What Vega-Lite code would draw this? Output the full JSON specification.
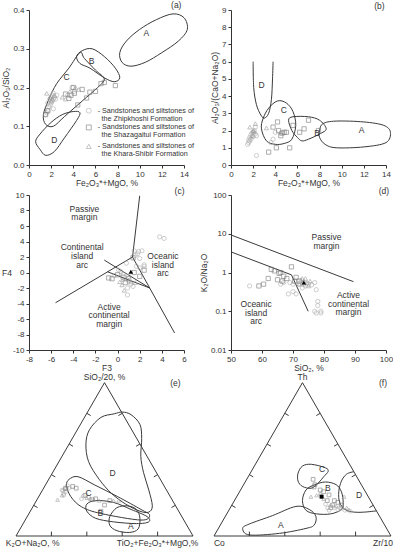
{
"$schema": "https://vega.github.io/schema/vega-lite/v6.json",
"padding": {"left": 1, "top": 0, "right": 0, "bottom": 0},
"background": "white",
"config": {
  "view": {"stroke": null},
  "axis": {"labelFont": "Liberation Sans", "titleFont": "Liberation Sans", "labelFontSize": 8, "titleFontSize": 8.5, "titleFontWeight": "normal", "grid": false, "domainColor": "#333", "tickColor": "#333", "labelColor": "#333", "titleColor": "#333", "tickSize": 3, "labelPadding": 2, "labelOverlap": false, "labelFlush": false},
  "axisX": {"titlePadding": 0},
  "axisY": {"titlePadding": 2},
  "text": {"font": "Liberation Sans", "fontSize": 8.5, "color": "#333"},
  "line": {"color": "#3a3a3a", "strokeWidth": 1},
  "rule": {"color": "#3a3a3a", "strokeWidth": 1}
},
"datasets": {
  "a_reg": [
    {"r":"A","i":1,"x":8.2,"y":0.29},{"r":"A","i":2,"x":8.8,"y":0.32},{"r":"A","i":3,"x":10,"y":0.35},{"r":"A","i":4,"x":11.5,"y":0.375},{"r":"A","i":5,"x":13,"y":0.39},{"r":"A","i":6,"x":14,"y":0.38},{"r":"A","i":7,"x":14.3,"y":0.35},{"r":"A","i":8,"x":13.5,"y":0.32},{"r":"A","i":9,"x":12,"y":0.29},{"r":"A","i":10,"x":10.5,"y":0.265},{"r":"A","i":11,"x":9.2,"y":0.255},{"r":"A","i":12,"x":8.4,"y":0.265},
    {"r":"B","i":1,"x":4.3,"y":0.28},{"r":"B","i":2,"x":4.8,"y":0.295},{"r":"B","i":3,"x":5.7,"y":0.3},{"r":"B","i":4,"x":6.8,"y":0.28},{"r":"B","i":5,"x":7.8,"y":0.25},{"r":"B","i":6,"x":8.2,"y":0.225},{"r":"B","i":7,"x":7.7,"y":0.215},{"r":"B","i":8,"x":6.8,"y":0.225},{"r":"B","i":9,"x":5.5,"y":0.25},{"r":"B","i":10,"x":4.6,"y":0.262},
    {"r":"C","i":1,"x":4.6,"y":0.29},{"r":"C","i":2,"x":3.6,"y":0.25},{"r":"C","i":3,"x":2.5,"y":0.21},{"r":"C","i":4,"x":1.8,"y":0.17},{"r":"C","i":5,"x":1.3,"y":0.13},{"r":"C","i":6,"x":1.5,"y":0.105},{"r":"C","i":7,"x":2.2,"y":0.1},{"r":"C","i":8,"x":3.2,"y":0.125},{"r":"C","i":9,"x":4.8,"y":0.165},{"r":"C","i":10,"x":6.2,"y":0.2},{"r":"C","i":11,"x":6.8,"y":0.222},{"r":"C","i":12,"x":6.0,"y":0.245},{"r":"C","i":13,"x":5.0,"y":0.275},
    {"r":"D","i":1,"x":1.0,"y":0.04},{"r":"D","i":2,"x":0.6,"y":0.06},{"r":"D","i":3,"x":1.0,"y":0.08},{"r":"D","i":4,"x":2.0,"y":0.11},{"r":"D","i":5,"x":3.0,"y":0.13},{"r":"D","i":6,"x":4.0,"y":0.138},{"r":"D","i":7,"x":4.6,"y":0.135},{"r":"D","i":8,"x":4.3,"y":0.115},{"r":"D","i":9,"x":3.2,"y":0.07},{"r":"D","i":10,"x":2.3,"y":0.035},{"r":"D","i":11,"x":1.5,"y":0.025}
  ],
  "a_pts": [
    {"fm":"Z","x":1.5,"y":0.13},{"fm":"Z","x":1.6,"y":0.135},{"fm":"Z","x":1.7,"y":0.14},{"fm":"Z","x":1.8,"y":0.15},{"fm":"Z","x":1.9,"y":0.155},{"fm":"Z","x":2.0,"y":0.16},{"fm":"Z","x":2.1,"y":0.165},{"fm":"Z","x":2.2,"y":0.17},{"fm":"Z","x":2.0,"y":0.175},{"fm":"Z","x":2.3,"y":0.175},{"fm":"Z","x":2.1,"y":0.18},{"fm":"Z","x":2.2,"y":0.185},{"fm":"Z","x":1.9,"y":0.17},{"fm":"Z","x":2.4,"y":0.17},{"fm":"Z","x":2.2,"y":0.145},{"fm":"Z","x":1.7,"y":0.16},{"fm":"Z","x":2.5,"y":0.18},{"fm":"Z","x":3.5,"y":0.18},{"fm":"Z","x":3.9,"y":0.2},{"fm":"Z","x":4.1,"y":0.19},
    {"fm":"S","x":1.5,"y":0.13},{"fm":"S","x":1.7,"y":0.14},{"fm":"S","x":3.3,"y":0.183},{"fm":"S","x":3.6,"y":0.172},{"fm":"S","x":4.0,"y":0.2},{"fm":"S","x":4.1,"y":0.185},{"fm":"S","x":4.4,"y":0.155},{"fm":"S","x":4.8,"y":0.195},{"fm":"S","x":5.2,"y":0.173},{"fm":"S","x":5.5,"y":0.188},{"fm":"S","x":6.0,"y":0.19},{"fm":"S","x":6.5,"y":0.21},{"fm":"S","x":6.8,"y":0.213},{"fm":"S","x":7.8,"y":0.205},{"fm":"S","x":3.8,"y":0.18},
    {"fm":"K","x":1.6,"y":0.185},{"fm":"K","x":1.9,"y":0.175},{"fm":"K","x":2.1,"y":0.17},{"fm":"K","x":2.3,"y":0.18},{"fm":"K","x":3.0,"y":0.175},{"fm":"K","x":3.3,"y":0.17},{"fm":"K","x":3.7,"y":0.19},{"fm":"K","x":4.2,"y":0.2},{"fm":"K","x":4.5,"y":0.195},{"fm":"K","x":2.0,"y":0.165}
  ],
  "a_txt": [
    {"x":10.6,"y":0.34,"t":"A"},{"x":5.66,"y":0.269,"t":"B"},{"x":3.4,"y":0.227,"t":"C"},{"x":2.29,"y":0.065,"t":"D"},{"x":13.3,"y":0.413,"t":"(a)"}
  ],
  "a_leg": [
    {"fm":"Z","x":5.4,"y":0.14},{"fm":"S","x":5.4,"y":0.097},{"fm":"K","x":5.4,"y":0.048}
  ],
  "a_legtxt": [
    {"x":6.2,"y":0.14,"t":"- Sandstones and siltstones of"},{"x":6.55,"y":0.12,"t":"the Zhipkhoshi Formation"},
    {"x":6.2,"y":0.097,"t":"- Sandstones and siltstones of"},{"x":6.55,"y":0.077,"t":"the Shazagaitui Formation"},
    {"x":6.2,"y":0.048,"t":"- Sandstones and siltstones of"},{"x":6.55,"y":0.028,"t":"the Khara-Shibir Formation"}
  ],
  "b_reg": [
    {"r":"A","i":1,"x":8.0,"y":2.0},{"r":"A","i":2,"x":8.3,"y":2.4},{"r":"A","i":3,"x":9.5,"y":2.55},{"r":"A","i":4,"x":12,"y":2.5},{"r":"A","i":5,"x":13.8,"y":2.3},{"r":"A","i":6,"x":14.4,"y":1.9},{"r":"A","i":7,"x":14.0,"y":1.3},{"r":"A","i":8,"x":12,"y":1.05},{"r":"A","i":9,"x":9.5,"y":1.0},{"r":"A","i":10,"x":8.5,"y":1.2},{"r":"A","i":11,"x":8.0,"y":1.6},
    {"r":"B","i":1,"x":5.2,"y":2.6},{"r":"B","i":2,"x":5.6,"y":2.8},{"r":"B","i":3,"x":7.0,"y":2.8},{"r":"B","i":4,"x":8.0,"y":2.6},{"r":"B","i":5,"x":8.6,"y":2.1},{"r":"B","i":6,"x":8.0,"y":1.8},{"r":"B","i":7,"x":7.0,"y":1.5},{"r":"B","i":8,"x":6.4,"y":1.4},{"r":"B","i":9,"x":6.0,"y":1.6},{"r":"B","i":10,"x":5.5,"y":2.0},
    {"r":"C","i":1,"x":2.75,"y":2.1},{"r":"C","i":2,"x":2.9,"y":2.7},{"r":"C","i":3,"x":3.4,"y":3.3},{"r":"C","i":4,"x":4.2,"y":3.72},{"r":"C","i":5,"x":5.0,"y":3.6},{"r":"C","i":6,"x":5.6,"y":3.1},{"r":"C","i":7,"x":5.85,"y":2.3},{"r":"C","i":8,"x":5.5,"y":1.5},{"r":"C","i":9,"x":4.8,"y":1.25},{"r":"C","i":10,"x":4.0,"y":1.2},{"r":"C","i":11,"x":3.2,"y":1.4}
  ],
  "b_open": [
    {"r":"D","i":1,"x":2.0,"y":6.0},{"r":"D","i":2,"x":2.05,"y":4.5},{"r":"D","i":3,"x":2.3,"y":3.5},{"r":"D","i":4,"x":2.7,"y":2.9},{"r":"D","i":5,"x":3.0,"y":2.72},{"r":"D","i":6,"x":3.4,"y":3.0},{"r":"D","i":7,"x":3.65,"y":3.8},{"r":"D","i":8,"x":3.75,"y":5.0},{"r":"D","i":9,"x":3.8,"y":6.0}
  ],
  "b_pts": [
    {"fm":"Z","x":1.6,"y":1.3},{"fm":"Z","x":1.6,"y":1.45},{"fm":"Z","x":1.7,"y":1.6},{"fm":"Z","x":1.8,"y":1.75},{"fm":"Z","x":1.9,"y":1.85},{"fm":"Z","x":2.0,"y":1.9},{"fm":"Z","x":2.1,"y":2.0},{"fm":"Z","x":2.2,"y":1.8},{"fm":"Z","x":2.3,"y":1.7},{"fm":"Z","x":1.8,"y":1.5},{"fm":"Z","x":2.0,"y":1.65},{"fm":"Z","x":2.2,"y":2.2},{"fm":"Z","x":1.7,"y":1.4},{"fm":"Z","x":2.3,"y":0.55},{"fm":"Z","x":3.6,"y":1.3},{"fm":"Z","x":3.8,"y":1.5},{"fm":"Z","x":4.0,"y":1.9},{"fm":"Z","x":1.5,"y":1.2},
    {"fm":"S","x":3.4,"y":0.75},{"fm":"S","x":4.1,"y":1.0},{"fm":"S","x":5.3,"y":1.0},{"fm":"S","x":4.2,"y":2.5},{"fm":"S","x":4.5,"y":1.7},{"fm":"S","x":4.8,"y":1.9},{"fm":"S","x":5.0,"y":1.9},{"fm":"S","x":3.8,"y":2.2},{"fm":"S","x":4.3,"y":2.0},{"fm":"S","x":5.6,"y":2.3},{"fm":"S","x":6.2,"y":1.9},{"fm":"S","x":6.6,"y":2.1},{"fm":"S","x":7.0,"y":2.6},{"fm":"S","x":7.9,"y":2.0},{"fm":"S","x":4.6,"y":1.85},
    {"fm":"K","x":1.7,"y":2.2},{"fm":"K","x":2.2,"y":2.4},{"fm":"K","x":3.2,"y":2.15},{"fm":"K","x":2.0,"y":2.0},{"fm":"K","x":4.5,"y":1.9},{"fm":"K","x":2.1,"y":1.95},{"fm":"K","x":1.9,"y":1.7}
  ],
  "b_txt": [
    {"x":2.75,"y":4.66,"t":"D"},{"x":4.78,"y":3.2,"t":"C"},{"x":7.77,"y":1.85,"t":"B"},{"x":11.8,"y":2.05,"t":"A"},{"x":13.4,"y":9.25,"t":"(b)"}
  ],
  "c_lines": [
    {"x":-5.6,"y":-3.9,"x2":1.35,"y2":2.0},{"x":1.35,"y":2.0,"x2":2.0,"y2":9.9},{"x":1.35,"y":2.0,"x2":5.15,"y2":-7.8},{"x":-1.2,"y":1.6,"x2":2.9,"y2":-2.0},{"x":-0.9,"y":0.09,"x2":2.9,"y2":-2.0}
  ],
  "c_pts": [
    {"fm":"Z","x":3.8,"y":4.6},{"fm":"Z","x":4.2,"y":4.4},{"fm":"Z","x":1.5,"y":2.8},{"fm":"Z","x":1.9,"y":2.7},{"fm":"Z","x":2.2,"y":2.8},{"fm":"Z","x":1.6,"y":2.2},{"fm":"Z","x":2.0,"y":1.8},{"fm":"Z","x":0.8,"y":1.2},{"fm":"Z","x":1.7,"y":0.8},{"fm":"Z","x":2.4,"y":0.8},{"fm":"Z","x":2.4,"y":1.0},{"fm":"Z","x":2.0,"y":0.6},{"fm":"Z","x":0.1,"y":0.3},{"fm":"Z","x":0.5,"y":-0.2},{"fm":"Z","x":1.0,"y":-0.5},{"fm":"Z","x":1.2,"y":-1.5},{"fm":"Z","x":1.4,"y":-1.8},{"fm":"Z","x":0.9,"y":-2.0},{"fm":"Z","x":0.9,"y":-2.9},{"fm":"Z","x":-0.3,"y":-0.4},{"fm":"Z","x":0.3,"y":0.1},{"fm":"Z","x":1.8,"y":2.4},
    {"fm":"S","x":-0.8,"y":-0.7},{"fm":"S","x":-0.5,"y":-0.8},{"fm":"S","x":0.0,"y":-0.3},{"fm":"S","x":0.5,"y":-0.6},{"fm":"S","x":1.0,"y":-0.8},{"fm":"S","x":2.0,"y":-0.5},{"fm":"S","x":2.4,"y":0.3},{"fm":"S","x":1.5,"y":0.0},{"fm":"S","x":0.7,"y":-1.3},{"fm":"S","x":1.4,"y":1.9},
    {"fm":"K","x":0.2,"y":-1.2},{"fm":"K","x":0.4,"y":-1.6},{"fm":"K","x":0.6,"y":-2.3},{"fm":"K","x":1.0,"y":-1.0},{"fm":"K","x":1.2,"y":-1.2},{"fm":"K","x":0.5,"y":-0.9},{"fm":"K","x":1.6,"y":-1.3}
  ],
  "c_mean": [{"x":1.2,"y":0.1}],
  "c_txt": [
    {"x":-3.0,"y":8.2,"t":"Passive"},{"x":-3.0,"y":7.1,"t":"margin"},
    {"x":-3.2,"y":3.25,"t":"Continental"},{"x":-3.2,"y":2.13,"t":"island"},{"x":-3.2,"y":1.0,"t":"arc"},
    {"x":4.1,"y":2.13,"t":"Oceanic"},{"x":4.1,"y":1.0,"t":"island"},{"x":4.1,"y":-0.1,"t":"arc"},
    {"x":-0.76,"y":-4.4,"t":"Active"},{"x":-0.76,"y":-5.5,"t":"continental"},{"x":-0.76,"y":-6.6,"t":"margin"},
    {"x":5.6,"y":10.5,"t":"(c)"}
  ],
  "d_lines": [
    {"x":50,"y":9.3,"x2":89.5,"y2":0.58},{"x":50,"y":3.4,"x2":69.5,"y2":0.87},{"x":69.5,"y":0.87,"x2":74.9,"y2":0.1}
  ],
  "d_pts": [
    {"fm":"Z","x":56,"y":0.45},{"fm":"Z","x":66,"y":0.5},{"fm":"Z","x":67,"y":0.55},{"fm":"Z","x":68.5,"y":0.28},{"fm":"Z","x":70,"y":0.32},{"fm":"Z","x":71,"y":0.28},{"fm":"Z","x":70,"y":0.5},{"fm":"Z","x":72,"y":0.5},{"fm":"Z","x":74,"y":0.45},{"fm":"Z","x":75,"y":0.5},{"fm":"Z","x":77,"y":0.55},{"fm":"Z","x":77.5,"y":0.36},{"fm":"Z","x":78,"y":0.18},{"fm":"Z","x":78,"y":0.14},{"fm":"Z","x":77,"y":0.1},{"fm":"Z","x":77.5,"y":0.09},{"fm":"Z","x":79,"y":0.1},{"fm":"Z","x":79,"y":0.09},{"fm":"Z","x":69,"y":0.55},{"fm":"Z","x":73,"y":0.4},{"fm":"Z","x":76,"y":0.48},
    {"fm":"S","x":59,"y":0.45},{"fm":"S","x":60.5,"y":0.5},{"fm":"S","x":62,"y":0.7},{"fm":"S","x":63,"y":1.2},{"fm":"S","x":65.5,"y":0.95},{"fm":"S","x":66,"y":1.0},{"fm":"S","x":67,"y":0.8},{"fm":"S","x":65,"y":0.65},{"fm":"S","x":69.5,"y":1.4},{"fm":"S","x":68,"y":0.7},{"fm":"S","x":70.5,"y":0.6},{"fm":"S","x":71,"y":0.75},{"fm":"S","x":72,"y":0.6},{"fm":"S","x":66.5,"y":0.6},{"fm":"S","x":64,"y":1.1},
    {"fm":"K","x":72.5,"y":0.65},{"fm":"K","x":73,"y":0.55},{"fm":"K","x":73.5,"y":0.6},{"fm":"K","x":74,"y":0.7},{"fm":"K","x":74.5,"y":0.55},{"fm":"K","x":75.5,"y":0.6},{"fm":"K","x":72,"y":0.5},{"fm":"K","x":73.5,"y":0.5},{"fm":"K","x":75,"y":0.45},{"fm":"K","x":73,"y":0.7}
  ],
  "d_mean": [{"x":73.5,"y":0.55}],
  "d_txt": [
    {"x":80.8,"y":8.1,"t":"Passive"},{"x":80.8,"y":4.9,"t":"margin"},
    {"x":87.9,"y":0.263,"t":"Active"},{"x":87.9,"y":0.158,"t":"continental"},{"x":87.9,"y":0.095,"t":"margin"},
    {"x":58.1,"y":0.151,"t":"Oceanic"},{"x":58.1,"y":0.091,"t":"island"},{"x":58.1,"y":0.055,"t":"arc"},
    {"x":99.3,"y":125,"t":"(d)"}
  ],
  "tri": [
    {"i":1,"x":0,"y":0},{"i":2,"x":1,"y":0},{"i":3,"x":0.5,"y":0.866},{"i":4,"x":0,"y":0}
  ],
  "tri_ticks": [
    {"x":0.2,"y":0,"x2":0.2,"y2":0.025},{"x":0.4,"y":0,"x2":0.4,"y2":0.025},{"x":0.6,"y":0,"x2":0.6,"y2":0.025},{"x":0.8,"y":0,"x2":0.8,"y2":0.025},
    {"x":0.1,"y":0.1732,"x2":0.1217,"y2":0.1607},{"x":0.2,"y":0.3464,"x2":0.2217,"y2":0.3339},{"x":0.3,"y":0.5196,"x2":0.3217,"y2":0.5071},{"x":0.4,"y":0.6928,"x2":0.4217,"y2":0.6803},
    {"x":0.9,"y":0.1732,"x2":0.8783,"y2":0.1607},{"x":0.8,"y":0.3464,"x2":0.7783,"y2":0.3339},{"x":0.7,"y":0.5196,"x2":0.6783,"y2":0.5071},{"x":0.6,"y":0.6928,"x2":0.5783,"y2":0.6803}
  ],
  "e_reg": [
    {"r":"D","i":1,"x":0.555,"y":0.69},{"r":"D","i":2,"x":0.48,"y":0.67},{"r":"D","i":3,"x":0.415,"y":0.6},{"r":"D","i":4,"x":0.395,"y":0.52},{"r":"D","i":5,"x":0.41,"y":0.42},{"r":"D","i":6,"x":0.47,"y":0.32},{"r":"D","i":7,"x":0.54,"y":0.24},{"r":"D","i":8,"x":0.62,"y":0.18},{"r":"D","i":9,"x":0.7,"y":0.14},{"r":"D","i":10,"x":0.75,"y":0.135},{"r":"D","i":11,"x":0.77,"y":0.17},{"r":"D","i":12,"x":0.75,"y":0.26},{"r":"D","i":13,"x":0.72,"y":0.36},{"r":"D","i":14,"x":0.705,"y":0.45},{"r":"D","i":15,"x":0.71,"y":0.55},{"r":"D","i":16,"x":0.7,"y":0.63},{"r":"D","i":17,"x":0.65,"y":0.685},{"r":"D","i":18,"x":0.6,"y":0.7},
    {"r":"C","i":1,"x":0.3,"y":0.32},{"r":"C","i":2,"x":0.35,"y":0.335},{"r":"C","i":3,"x":0.445,"y":0.288},{"r":"C","i":4,"x":0.575,"y":0.222},{"r":"C","i":5,"x":0.706,"y":0.15},{"r":"C","i":6,"x":0.755,"y":0.118},{"r":"C","i":7,"x":0.706,"y":0.09},{"r":"C","i":8,"x":0.48,"y":0.127},{"r":"C","i":9,"x":0.37,"y":0.165},{"r":"C","i":10,"x":0.31,"y":0.222},{"r":"C","i":11,"x":0.285,"y":0.285},
    {"r":"B","i":1,"x":0.4,"y":0.18},{"r":"B","i":2,"x":0.45,"y":0.2},{"r":"B","i":3,"x":0.55,"y":0.19},{"r":"B","i":4,"x":0.65,"y":0.15},{"r":"B","i":5,"x":0.74,"y":0.11},{"r":"B","i":6,"x":0.75,"y":0.08},{"r":"B","i":7,"x":0.68,"y":0.07},{"r":"B","i":8,"x":0.55,"y":0.08},{"r":"B","i":9,"x":0.45,"y":0.1},{"r":"B","i":10,"x":0.4,"y":0.14},
    {"r":"A","i":1,"x":0.53,"y":0.11},{"r":"A","i":2,"x":0.57,"y":0.16},{"r":"A","i":3,"x":0.63,"y":0.17},{"r":"A","i":4,"x":0.68,"y":0.15},{"r":"A","i":5,"x":0.7,"y":0.1},{"r":"A","i":6,"x":0.69,"y":0.04},{"r":"A","i":7,"x":0.64,"y":0.02},{"r":"A","i":8,"x":0.57,"y":0.03},{"r":"A","i":9,"x":0.53,"y":0.06}
  ],
  "e_pts": [
    {"fm":"Z","x":0.265,"y":0.255},{"fm":"Z","x":0.275,"y":0.265},{"fm":"Z","x":0.285,"y":0.27},{"fm":"Z","x":0.27,"y":0.24},{"fm":"Z","x":0.28,"y":0.25},{"fm":"Z","x":0.26,"y":0.26},{"fm":"Z","x":0.3,"y":0.27},{"fm":"Z","x":0.29,"y":0.285},{"fm":"Z","x":0.38,"y":0.225},{"fm":"Z","x":0.41,"y":0.22},{"fm":"Z","x":0.37,"y":0.21},{"fm":"Z","x":0.27,"y":0.23},
    {"fm":"S","x":0.32,"y":0.28},{"fm":"S","x":0.34,"y":0.27},{"fm":"S","x":0.43,"y":0.205},{"fm":"S","x":0.45,"y":0.21},{"fm":"S","x":0.5,"y":0.175},{"fm":"S","x":0.48,"y":0.14},{"fm":"S","x":0.53,"y":0.2},{"fm":"S","x":0.39,"y":0.23},{"fm":"S","x":0.28,"y":0.27},
    {"fm":"K","x":0.235,"y":0.205},{"fm":"K","x":0.26,"y":0.23},{"fm":"K","x":0.4,"y":0.215},{"fm":"K","x":0.42,"y":0.21},{"fm":"K","x":0.44,"y":0.205},{"fm":"K","x":0.47,"y":0.2},{"fm":"K","x":0.55,"y":0.2},{"fm":"K","x":0.58,"y":0.2}
  ],
  "e_txt": [
    {"x":0.546,"y":0.353,"t":"D"},{"x":0.41,"y":0.244,"t":"C"},{"x":0.477,"y":0.132,"t":"B"},{"x":0.648,"y":0.058,"t":"A"},
    {"x":0.5,"y":0.9,"t":"SiO₂/20, %"},{"x":0.094,"y":-0.04,"t":"K₂O+Na₂O, %"},{"x":0.8,"y":-0.04,"t":"TiO₂+Fe₂O₃*+MgO,%"},{"x":0.9,"y":0.865,"t":"(e)"}
  ],
  "f_reg": [
    {"r":"A","i":1,"x":0.162,"y":0.043},{"r":"A","i":2,"x":0.2,"y":0.068},{"r":"A","i":3,"x":0.33,"y":0.115},{"r":"A","i":4,"x":0.463,"y":0.167},{"r":"A","i":5,"x":0.538,"y":0.15},{"r":"A","i":6,"x":0.576,"y":0.11},{"r":"A","i":7,"x":0.566,"y":0.062},{"r":"A","i":8,"x":0.52,"y":0.043},{"r":"A","i":9,"x":0.37,"y":0.015},{"r":"A","i":10,"x":0.2,"y":0.006},
    {"r":"B","i":1,"x":0.5,"y":0.2},{"r":"B","i":2,"x":0.52,"y":0.26},{"r":"B","i":3,"x":0.57,"y":0.29},{"r":"B","i":4,"x":0.63,"y":0.305},{"r":"B","i":5,"x":0.69,"y":0.29},{"r":"B","i":6,"x":0.72,"y":0.25},{"r":"B","i":7,"x":0.73,"y":0.19},{"r":"B","i":8,"x":0.72,"y":0.15},{"r":"B","i":9,"x":0.66,"y":0.125},{"r":"B","i":10,"x":0.58,"y":0.125},{"r":"B","i":11,"x":0.52,"y":0.145},
    {"r":"C","i":1,"x":0.5,"y":0.395},{"r":"C","i":2,"x":0.55,"y":0.405},{"r":"C","i":3,"x":0.63,"y":0.385},{"r":"C","i":4,"x":0.645,"y":0.365},{"r":"C","i":5,"x":0.62,"y":0.335},{"r":"C","i":6,"x":0.59,"y":0.3},{"r":"C","i":7,"x":0.55,"y":0.27},{"r":"C","i":8,"x":0.5,"y":0.28},{"r":"C","i":9,"x":0.475,"y":0.31},{"r":"C","i":10,"x":0.475,"y":0.355}
  ],
  "f_open": [
    {"r":"D","i":1,"x":0.79,"y":0.363},{"r":"D","i":2,"x":0.75,"y":0.35},{"r":"D","i":3,"x":0.72,"y":0.31},{"r":"D","i":4,"x":0.705,"y":0.25},{"r":"D","i":5,"x":0.71,"y":0.19},{"r":"D","i":6,"x":0.74,"y":0.15},{"r":"D","i":7,"x":0.79,"y":0.135},{"r":"D","i":8,"x":0.85,"y":0.135},{"r":"D","i":9,"x":0.918,"y":0.142}
  ],
  "f_pts": [
    {"fm":"S","x":0.56,"y":0.32},{"fm":"S","x":0.57,"y":0.29},{"fm":"S","x":0.565,"y":0.277},{"fm":"S","x":0.6,"y":0.26},{"fm":"S","x":0.62,"y":0.25},{"fm":"S","x":0.65,"y":0.232},{"fm":"S","x":0.68,"y":0.2},{"fm":"S","x":0.67,"y":0.175},{"fm":"S","x":0.72,"y":0.175},{"fm":"S","x":0.64,"y":0.2},{"fm":"S","x":0.7,"y":0.19},{"fm":"S","x":0.66,"y":0.16},
    {"fm":"K","x":0.548,"y":0.222},{"fm":"K","x":0.58,"y":0.23},{"fm":"K","x":0.735,"y":0.222},{"fm":"K","x":0.763,"y":0.147},{"fm":"K","x":0.75,"y":0.16},{"fm":"K","x":0.62,"y":0.21},{"fm":"K","x":0.6,"y":0.24},{"fm":"K","x":0.69,"y":0.17},
    {"fm":"Z","x":0.642,"y":0.158},{"fm":"Z","x":0.7,"y":0.147},{"fm":"Z","x":0.72,"y":0.155},{"fm":"Z","x":0.66,"y":0.17},{"fm":"Z","x":0.68,"y":0.16},{"fm":"Z","x":0.74,"y":0.145},{"fm":"Z","x":0.77,"y":0.14},{"fm":"Z","x":0.63,"y":0.18},{"fm":"Z","x":0.71,"y":0.16},{"fm":"Z","x":0.65,"y":0.145}
  ],
  "f_mean": [{"x":0.608,"y":0.222}],
  "f_txt": [
    {"x":0.378,"y":0.062,"t":"A"},{"x":0.643,"y":0.273,"t":"B"},{"x":0.61,"y":0.38,"t":"C"},{"x":0.82,"y":0.232,"t":"D"},
    {"x":0.5,"y":0.9,"t":"Th"},{"x":0.03,"y":-0.04,"t":"Co"},{"x":0.955,"y":-0.04,"t":"Zr/10"},{"x":0.955,"y":0.865,"t":"(f)"}
  ]
},
"columns": 2,
"bounds": "flush",
"spacing": {"row": 30, "column": 47},
"concat": [
  {
    "width": 155, "height": 155,
    "layer": [
      {"data": {"name": "a_reg"}, "mark": {"type": "line", "interpolate": "cardinal-closed"},
       "encoding": {"x": {"field": "x", "type": "quantitative", "scale": {"domain": [0, 14], "nice": false}, "axis": {"values": [0,2,4,6,8,10,12,14], "tickCount": 20, "format": "d", "title": "Fe₂O₃*+MgO, %"}},
                    "y": {"field": "y", "type": "quantitative", "scale": {"domain": [0, 0.4], "nice": false}, "axis": {"values": [0,0.1,0.2,0.3,0.4], "tickCount": 20, "format": ".1f", "title": "Al₂O₃/SiO₂"}},
                    "detail": {"field": "r"}, "order": {"field": "i"}}},
      {"data": {"name": "a_pts"}, "mark": {"type": "point", "filled": false, "size": 18, "strokeWidth": 0.8},
       "encoding": {"x": {"field": "x", "type": "quantitative"}, "y": {"field": "y", "type": "quantitative"},
                    "shape": {"field": "fm", "type": "nominal", "scale": {"domain": ["Z","S","K"], "range": ["circle","square","triangle-up"]}, "legend": null},
                    "color": {"field": "fm", "type": "nominal", "scale": {"domain": ["Z","S","K"], "range": ["#a8a8a8","#707070","#959595"]}, "legend": null}}},
      {"data": {"name": "a_leg"}, "mark": {"type": "point", "filled": false, "size": 24, "strokeWidth": 0.8},
       "encoding": {"x": {"field": "x", "type": "quantitative"}, "y": {"field": "y", "type": "quantitative"},
                    "shape": {"field": "fm", "type": "nominal", "legend": null},
                    "color": {"field": "fm", "type": "nominal", "legend": null}}},
      {"data": {"name": "a_legtxt"}, "mark": {"type": "text", "align": "left", "baseline": "middle", "fontSize": 7.2},
       "encoding": {"x": {"field": "x", "type": "quantitative"}, "y": {"field": "y", "type": "quantitative"}, "text": {"field": "t"}}},
      {"data": {"name": "a_txt"}, "mark": {"type": "text", "baseline": "middle", "fontSize": 8.5},
       "encoding": {"x": {"field": "x", "type": "quantitative"}, "y": {"field": "y", "type": "quantitative"}, "text": {"field": "t"}}}
    ]
  },
  {
    "width": 155, "height": 155,
    "layer": [
      {"data": {"name": "b_reg"}, "mark": {"type": "line", "interpolate": "cardinal-closed"},
       "encoding": {"x": {"field": "x", "type": "quantitative", "scale": {"domain": [0, 14], "nice": false}, "axis": {"values": [0,2,4,6,8,10,12,14], "tickCount": 20, "format": "d", "title": "Fe₂O₃*+MgO, %"}},
                    "y": {"field": "y", "type": "quantitative", "scale": {"domain": [0, 9], "nice": false}, "axis": {"values": [0,1,2,3,4,5,6,7,8,9], "tickCount": 20, "format": "d", "title": "Al₂O₃/(CaO+Na₂O)"}},
                    "detail": {"field": "r"}, "order": {"field": "i"}}},
      {"data": {"name": "b_open"}, "mark": {"type": "line", "interpolate": "cardinal"},
       "encoding": {"x": {"field": "x", "type": "quantitative"}, "y": {"field": "y", "type": "quantitative"}, "order": {"field": "i"}}},
      {"data": {"name": "b_pts"}, "mark": {"type": "point", "filled": false, "size": 18, "strokeWidth": 0.8},
       "encoding": {"x": {"field": "x", "type": "quantitative"}, "y": {"field": "y", "type": "quantitative"},
                    "shape": {"field": "fm", "type": "nominal", "scale": {"domain": ["Z","S","K"], "range": ["circle","square","triangle-up"]}, "legend": null},
                    "color": {"field": "fm", "type": "nominal", "scale": {"domain": ["Z","S","K"], "range": ["#a8a8a8","#707070","#959595"]}, "legend": null}}},
      {"data": {"name": "b_txt"}, "mark": {"type": "text", "baseline": "middle", "fontSize": 8.5},
       "encoding": {"x": {"field": "x", "type": "quantitative"}, "y": {"field": "y", "type": "quantitative"}, "text": {"field": "t"}}}
    ]
  },
  {
    "width": 155, "height": 155,
    "layer": [
      {"data": {"name": "c_lines"}, "mark": {"type": "rule"},
       "encoding": {"x": {"field": "x", "type": "quantitative", "scale": {"domain": [-8, 6], "nice": false}, "axis": {"values": [-8,-6,-4,-2,0,2,4,6], "tickCount": 20, "labelExpr": "datum.value + ''", "title": "F3"}},
                    "y": {"field": "y", "type": "quantitative", "scale": {"domain": [-10, 10], "nice": false}, "axis": {"values": [-10,-8,-6,-4,-2,0,2,4,6,8,10], "tickCount": 20, "labelExpr": "datum.value + ''", "title": "F4", "titleAngle": 0, "titleAlign": "right", "titleBaseline": "middle", "titlePadding": 1}},
                    "x2": {"field": "x2"}, "y2": {"field": "y2"}}},
      {"data": {"name": "c_pts"}, "mark": {"type": "point", "filled": false, "size": 18, "strokeWidth": 0.8},
       "encoding": {"x": {"field": "x", "type": "quantitative"}, "y": {"field": "y", "type": "quantitative"},
                    "shape": {"field": "fm", "type": "nominal", "scale": {"domain": ["Z","S","K"], "range": ["circle","square","triangle-up"]}, "legend": null},
                    "color": {"field": "fm", "type": "nominal", "scale": {"domain": ["Z","S","K"], "range": ["#a8a8a8","#707070","#959595"]}, "legend": null}}},
      {"data": {"name": "c_mean"}, "mark": {"type": "point", "filled": true, "shape": "triangle-up", "size": 22, "color": "#000", "opacity": 1},
       "encoding": {"x": {"field": "x", "type": "quantitative"}, "y": {"field": "y", "type": "quantitative"}}},
      {"data": {"name": "c_txt"}, "mark": {"type": "text", "baseline": "middle", "fontSize": 8.5},
       "encoding": {"x": {"field": "x", "type": "quantitative"}, "y": {"field": "y", "type": "quantitative"}, "text": {"field": "t"}}}
    ]
  },
  {
    "width": 155, "height": 155,
    "layer": [
      {"data": {"name": "d_lines"}, "mark": {"type": "rule"},
       "encoding": {"x": {"field": "x", "type": "quantitative", "scale": {"domain": [50, 100], "nice": false, "zero": false}, "axis": {"values": [50,60,70,80,90,100], "tickCount": 20, "format": "d", "title": "SiO₂, %"}},
                    "y": {"field": "y", "type": "quantitative", "scale": {"type": "log", "domain": [0.01, 100], "nice": false}, "axis": {"values": [0.01,0.1,1,10,100], "tickCount": 20, "format": "~g", "title": "K₂O/Na₂O"}},
                    "x2": {"field": "x2"}, "y2": {"field": "y2"}}},
      {"data": {"name": "d_pts"}, "mark": {"type": "point", "filled": false, "size": 18, "strokeWidth": 0.8},
       "encoding": {"x": {"field": "x", "type": "quantitative"}, "y": {"field": "y", "type": "quantitative"},
                    "shape": {"field": "fm", "type": "nominal", "scale": {"domain": ["Z","S","K"], "range": ["circle","square","triangle-up"]}, "legend": null},
                    "color": {"field": "fm", "type": "nominal", "scale": {"domain": ["Z","S","K"], "range": ["#a8a8a8","#707070","#959595"]}, "legend": null}}},
      {"data": {"name": "d_mean"}, "mark": {"type": "point", "filled": true, "shape": "triangle-up", "size": 20, "color": "#000", "opacity": 1},
       "encoding": {"x": {"field": "x", "type": "quantitative"}, "y": {"field": "y", "type": "quantitative"}}},
      {"data": {"name": "d_txt"}, "mark": {"type": "text", "baseline": "middle", "fontSize": 8.5},
       "encoding": {"x": {"field": "x", "type": "quantitative"}, "y": {"field": "y", "type": "quantitative"}, "text": {"field": "t"}}}
    ]
  },
  {
    "width": 155, "height": 155,
    "layer": [
      {"data": {"name": "tri"}, "mark": {"type": "line"},
       "encoding": {"x": {"field": "x", "type": "quantitative", "scale": {"domain": [0.0734, 0.949], "nice": false, "zero": false}, "axis": null},
                    "y": {"field": "y", "type": "quantitative", "scale": {"domain": [0.0057, 0.881], "nice": false, "zero": false}, "axis": null},
                    "order": {"field": "i"}}},
      {"data": {"name": "tri_ticks"}, "mark": {"type": "rule"},
       "encoding": {"x": {"field": "x", "type": "quantitative"}, "y": {"field": "y", "type": "quantitative"}, "x2": {"field": "x2"}, "y2": {"field": "y2"}}},
      {"data": {"name": "e_reg"}, "mark": {"type": "line", "interpolate": "cardinal-closed"},
       "encoding": {"x": {"field": "x", "type": "quantitative"}, "y": {"field": "y", "type": "quantitative"}, "detail": {"field": "r"}, "order": {"field": "i"}}},
      {"data": {"name": "e_pts"}, "mark": {"type": "point", "filled": false, "size": 14, "strokeWidth": 0.8},
       "encoding": {"x": {"field": "x", "type": "quantitative"}, "y": {"field": "y", "type": "quantitative"},
                    "shape": {"field": "fm", "type": "nominal", "scale": {"domain": ["Z","S","K"], "range": ["circle","square","triangle-up"]}, "legend": null},
                    "color": {"field": "fm", "type": "nominal", "scale": {"domain": ["Z","S","K"], "range": ["#a8a8a8","#707070","#959595"]}, "legend": null}}},
      {"data": {"name": "e_txt"}, "mark": {"type": "text", "baseline": "middle", "fontSize": 8.5},
       "encoding": {"x": {"field": "x", "type": "quantitative"}, "y": {"field": "y", "type": "quantitative"}, "text": {"field": "t"}}}
    ]
  },
  {
    "width": 155, "height": 155,
    "layer": [
      {"data": {"name": "tri"}, "mark": {"type": "line"},
       "encoding": {"x": {"field": "x", "type": "quantitative", "scale": {"domain": [0.096, 0.972], "nice": false, "zero": false}, "axis": null},
                    "y": {"field": "y", "type": "quantitative", "scale": {"domain": [0.0057, 0.881], "nice": false, "zero": false}, "axis": null},
                    "order": {"field": "i"}}},
      {"data": {"name": "tri_ticks"}, "mark": {"type": "rule"},
       "encoding": {"x": {"field": "x", "type": "quantitative"}, "y": {"field": "y", "type": "quantitative"}, "x2": {"field": "x2"}, "y2": {"field": "y2"}}},
      {"data": {"name": "f_reg"}, "mark": {"type": "line", "interpolate": "cardinal-closed"},
       "encoding": {"x": {"field": "x", "type": "quantitative"}, "y": {"field": "y", "type": "quantitative"}, "detail": {"field": "r"}, "order": {"field": "i"}}},
      {"data": {"name": "f_open"}, "mark": {"type": "line", "interpolate": "cardinal"},
       "encoding": {"x": {"field": "x", "type": "quantitative"}, "y": {"field": "y", "type": "quantitative"}, "order": {"field": "i"}}},
      {"data": {"name": "f_pts"}, "mark": {"type": "point", "filled": false, "size": 14, "strokeWidth": 0.8},
       "encoding": {"x": {"field": "x", "type": "quantitative"}, "y": {"field": "y", "type": "quantitative"},
                    "shape": {"field": "fm", "type": "nominal", "scale": {"domain": ["Z","S","K"], "range": ["circle","square","triangle-up"]}, "legend": null},
                    "color": {"field": "fm", "type": "nominal", "scale": {"domain": ["Z","S","K"], "range": ["#a8a8a8","#707070","#959595"]}, "legend": null}}},
      {"data": {"name": "f_mean"}, "mark": {"type": "point", "filled": true, "shape": "square", "size": 16, "color": "#000", "opacity": 1},
       "encoding": {"x": {"field": "x", "type": "quantitative"}, "y": {"field": "y", "type": "quantitative"}}},
      {"data": {"name": "f_txt"}, "mark": {"type": "text", "baseline": "middle", "fontSize": 8.5},
       "encoding": {"x": {"field": "x", "type": "quantitative"}, "y": {"field": "y", "type": "quantitative"}, "text": {"field": "t"}}}
    ]
  }
]
}
